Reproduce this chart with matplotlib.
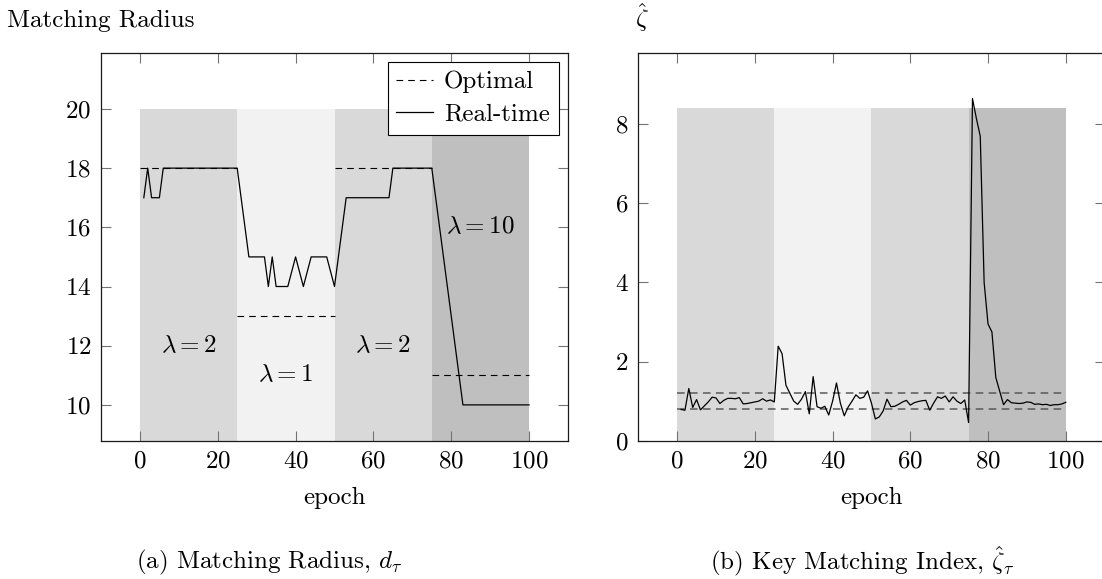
import matplotlib
matplotlib.use('Agg')
import matplotlib.pyplot as plt

# phase bands (shared by both panels)
band_edges = [0, 25, 50, 75, 100]
band_lambda = [2, 1, 2, 10]
lambda_x = [12.5, 37.5, 62.5, 87.5]
lambda_y = [12, 11, 12, 16]

# (a) matching radius
radius_top = 20
optimal_radius = [18, 13, 18, 11]
radius_epoch = [1, 2, 3, 4, 5, 6, 25, 28, 32, 33, 34, 35, 38, 40, 42, 44, 48, 50,
                53, 64, 65, 75, 83, 100]
radius_value = [17, 18, 17, 17, 17, 18, 18, 15, 15, 14, 15, 14, 14, 15, 14, 15, 15, 14,
                 17, 17, 18, 18, 10, 10]

# (b) key matching index
zeta_top = 8.4
zeta_bounds = [1.2, 0.8]
zeta_epoch = list(range(1, 101))
zeta_value = [0.79, 0.77, 1.32, 0.84, 1.04, 0.78, 0.88, 0.98, 1.10, 1.08,
              0.94, 1.02, 1.07, 1.07, 1.06, 1.09, 0.93, 0.94, 0.96, 0.98,
              1.00, 1.06, 1.00, 1.03, 0.98, 2.39, 2.20, 1.40, 1.20, 1.00,
              0.92, 1.05, 1.24, 0.68, 1.62, 0.86, 0.82, 0.87, 0.65, 1.00,
              1.46, 0.95, 0.63, 0.85, 1.00, 1.16, 1.07, 1.10, 1.26, 0.95,
              0.55, 0.60, 0.75, 1.05, 0.86, 0.87, 0.92, 0.98, 1.02, 0.90,
              0.96, 0.99, 1.01, 1.02, 0.77, 0.95, 1.11, 1.07, 1.13, 0.98,
              1.11, 1.00, 0.94, 1.03, 0.46, 8.65, 8.15, 7.70, 4.00, 2.95,
              2.75, 1.60, 1.25, 0.91, 1.04, 0.96, 0.95, 0.94, 0.95, 0.98,
              0.97, 0.92, 0.93, 0.91, 0.92, 0.89, 0.91, 0.91, 0.93, 0.97]

band_colors = ['#d9d9d9', '#f2f2f2', '#d9d9d9', '#bfbfbf']

plt.rcParams['font.family'] = 'serif'
plt.rcParams['font.serif'] = ['cmr10']
plt.rcParams['mathtext.fontset'] = 'cm'
plt.rcParams['axes.formatter.use_mathtext'] = True
plt.rcParams['font.size'] = 18


def style_axes(ax):
    ax.set_xlim(-10, 110)
    ax.set_xticks([0, 20, 40, 60, 80, 100])
    ax.tick_params(direction='in', top=True, right=True, length=7.5, width=0.8,
                   color='0.45', pad=7, labelsize=18)
    for sp in ax.spines.values():
        sp.set_linewidth(0.9)
        sp.set_color('0.1')
    ax.set_xlabel('epoch', labelpad=10)


def draw_bands(ax, top):
    for i in range(len(band_colors)):
        ax.bar(band_edges[i], top, width=band_edges[i + 1] - band_edges[i], bottom=0,
               align='edge', color=band_colors[i], linewidth=0, zorder=0)


fig = plt.figure(figsize=(11.02, 5.79), dpi=100)
W, H = 1102.0, 579.0

# ---- left panel
ax1 = fig.add_axes([101 / W, 1 - 440.7 / H, 467 / W, 388 / H])
draw_bands(ax1, radius_top)
ax1.hlines(optimal_radius, band_edges[:-1], band_edges[1:], colors='black',
           linestyles=(0, (6, 4.5)), linewidth=0.8, label='Optimal', zorder=2)
ax1.plot(radius_epoch, radius_value, color='black', linewidth=0.9, label='Real-time', zorder=3)
for x, y, lam in zip(lambda_x, lambda_y, band_lambda):
    ax1.text(x, y, r'$\lambda = %d$' % lam, ha='center', va='center', fontsize=18)
ax1.set_ylim(8.79, 21.9)
ax1.set_yticks([10, 12, 14, 16, 18, 20])
style_axes(ax1)
ax1.set_ylabel('Matching Radius', rotation=0, ha='left', va='baseline')
ax1.yaxis.set_label_coords(-0.2006, 1.067)
leg = ax1.legend(loc='upper right', fancybox=False, framealpha=1, edgecolor='black',
                 borderpad=0.35, handlelength=1.45, handletextpad=0.45, labelspacing=0.4,
                 borderaxespad=0.38, fontsize=18)
leg.get_frame().set_linewidth(0.8)

# ---- right panel
ax2 = fig.add_axes([638.3 / W, 1 - 440.7 / H, 466.3 / W, 388 / H])
draw_bands(ax2, zeta_top)
ax2.hlines(zeta_bounds, band_edges[0], band_edges[-1], colors='0.35',
           linestyles=(0, (5, 3.5)), linewidth=1.1, zorder=2)
ax2.plot(zeta_epoch, zeta_value, color='black', linewidth=0.9, zorder=3)
ax2.set_ylim(0, 9.81)
ax2.set_yticks([0, 2, 4, 6, 8])
style_axes(ax2)
ax2.set_ylabel(r'$\hat{\zeta}$', rotation=0, ha='center', va='baseline')
ax2.yaxis.set_label_coords(0.008, 1.067)

# captions
fig.text(269 / W, 1 - 562 / H, r'(a) Matching Radius, $d_\tau$', ha='center', va='center', fontsize=18)
fig.text(862 / W, 1 - 562 / H, r'(b) Key Matching Index, $\hat{\zeta}_\tau$', ha='center', va='center', fontsize=18)

fig.savefig('out.png', dpi=100)
